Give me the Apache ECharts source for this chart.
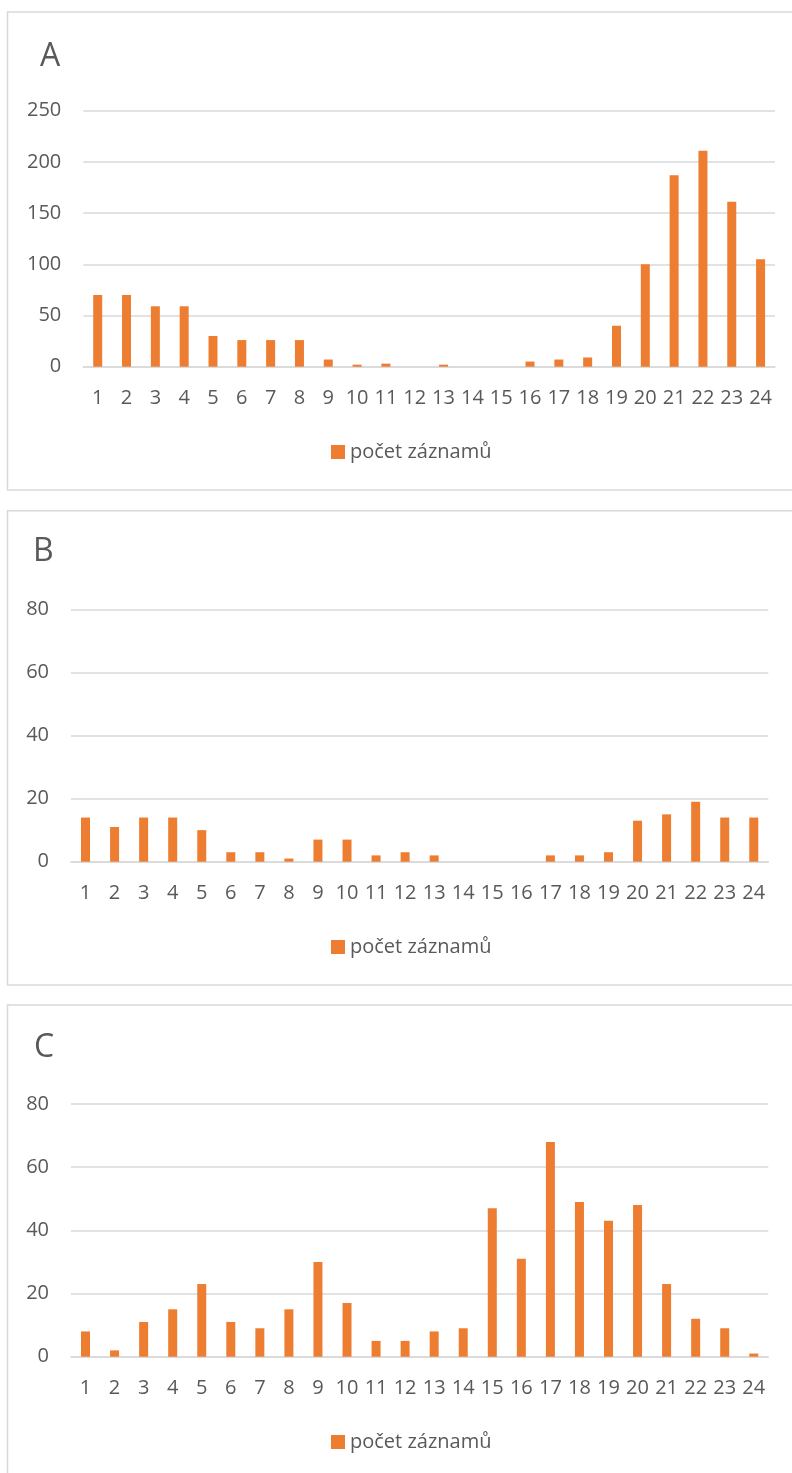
<!DOCTYPE html>
<html>
<head>
<meta charset="utf-8">
<script src="https://cdn.jsdelivr.net/npm/echarts@6/dist/echarts.min.js"></script>
<style>
html,body{margin:0;padding:0;background:#fff;}
#c{width:792px;height:1473px;}
</style>
</head>
<body>
<div id="c"></div>
<script>
const categories = ['1','2','3','4','5','6','7','8','9','10','11','12','13','14','15','16','17','18','19','20','21','22','23','24'];
const seriesName = 'počet záznamů';
const valuesA = [70,70,59,59,30,26,26,26,7,2,3,0,2,0,0,5,7,9,40,100,187,211,161,105];
const valuesB = [14,11,14,14,10,3,3,1,7,7,2,3,2,0,0,0,2,2,3,13,15,19,14,14];
const valuesC = [8,2,11,15,23,11,9,15,30,17,5,5,8,9,47,31,68,49,43,48,23,12,9,1];
const panelTitles = ['A','B','C'];

const FONT = 'Open Sans';
const TXT = '#595959';
const GRID = '#d9d9d9';
const ORANGE = '#ED7D31';

const grids = [
  {left:83.3, right:17, top:110.7, height:256},
  {left:71, right:23.7, top:609.3, height:252.4},
  {left:71, right:23.7, top:1104, height:252.7}
];
const yCfg = [{max:250, interval:50},{max:80, interval:20},{max:80, interval:20}];
const titlePos = [{left:35, top:36},{left:28, top:531},{left:29, top:1027}];
const legendTop = [437, 932, 1427];
const frames = [{y:12, h:478},{y:510.7, h:474.3},{y:1005, h:480}];
const data = [valuesA, valuesB, valuesC];

const option = {
  animation:false,
  backgroundColor:'#fff',
  textStyle:{fontFamily:FONT},
  title: panelTitles.map((t,i)=>({text:t, left:titlePos[i].left, top:titlePos[i].top, textStyle:{fontFamily:FONT, fontSize:32, fontWeight:'normal', color:TXT}})),
  legend: [0,1,2].map(i=>({
    data:[seriesName], left:326, top:legendTop[i], icon:'rect', itemWidth:14, itemHeight:14, itemGap:6,
    textStyle:{fontFamily:FONT, fontSize:20, color:TXT}, selectedMode:false
  })),
  grid: grids,
  xAxis: [0,1,2].map(i=>({
    type:'category', gridIndex:i, data:categories,
    axisLine:{lineStyle:{color:GRID, width:1.5}}, axisTick:{show:false},
    axisLabel:{interval:0, color:TXT, fontFamily:FONT, fontSize:20, margin:22}
  })),
  yAxis: [0,1,2].map(i=>({
    type:'value', gridIndex:i, min:0, max:yCfg[i].max, interval:yCfg[i].interval,
    axisLine:{show:false}, axisTick:{show:false},
    splitLine:{lineStyle:{color:GRID, width:1.5}},
    axisLabel:{color:TXT, fontFamily:FONT, fontSize:20, margin:22}
  })),
  series: [0,1,2].map(i=>({
    type:'bar', name:seriesName, xAxisIndex:i, yAxisIndex:i, data:data[i],
    barWidth:9, itemStyle:{color:ORANGE}
  })),
  graphic: frames.map(f=>({
    type:'rect', shape:{x:7.5, y:f.y, width:800, height:f.h}, silent:true, z:-1,
    style:{fill:null, stroke:GRID, lineWidth:1.5}
  }))
};
const chart = echarts.init(document.getElementById('c'));
chart.setOption(option);
</script>
</body>
</html>
